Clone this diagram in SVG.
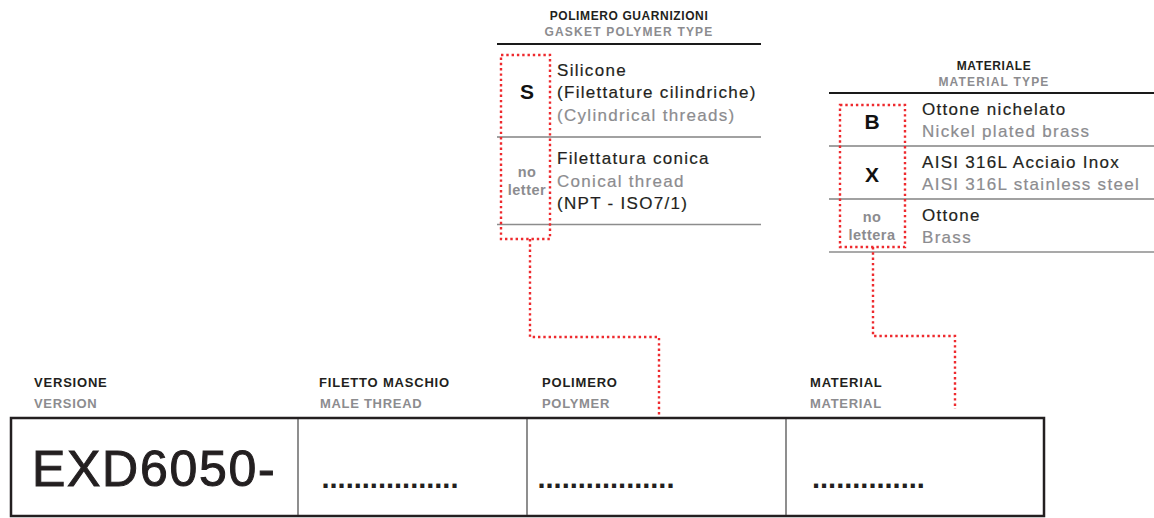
<svg xmlns="http://www.w3.org/2000/svg" width="1154" height="518" viewBox="0 0 1154 518">
<style>
text{font-family:"Liberation Sans",Arial,Helvetica,sans-serif}
.ttl{font-size:12px;font-weight:bold;fill:#231f20;letter-spacing:0.6px;text-anchor:middle}
.ttg{font-size:12px;font-weight:bold;fill:#8c8c8f;letter-spacing:1.2px;text-anchor:middle}
.code{font-size:21px;font-weight:bold;fill:#111;text-anchor:middle}
.nol{font-size:14.5px;font-weight:bold;fill:#8c8c8f;letter-spacing:0.5px;text-anchor:middle}
.d{font-size:17px;fill:#231f20;letter-spacing:1.3px;stroke:#231f20;stroke-width:0.2}
.g{font-size:17px;fill:#8c8c8f;letter-spacing:1.3px;stroke:#8c8c8f;stroke-width:0.2}
.lb{font-size:13px;font-weight:bold;fill:#231f20;letter-spacing:0.8px}
.lg{font-size:13px;font-weight:bold;fill:#8c8c8f;letter-spacing:0.7px}
.dots{font-size:29px;font-weight:bold;fill:#231f20}
.hl{stroke:#1a1a1a;stroke-width:2.2;fill:none}
.dl{stroke:#444;stroke-width:1.2;fill:none}
.bl{stroke:#8c8c8c;stroke-width:1.6;fill:none}
.red{stroke:#ee2a2e;stroke-width:2.4;stroke-dasharray:2.4 2.9;fill:none}
</style>
<g id="polymer-table">
<text class="ttl" x="629" y="20">POLIMERO GUARNIZIONI</text>
<text class="ttg" x="629" y="36">GASKET POLYMER TYPE</text>
<line class="hl" x1="497" y1="44" x2="761" y2="44"/>
<line class="dl" x1="497" y1="137" x2="761" y2="137"/>
<line class="bl" x1="497" y1="224.5" x2="761" y2="224.5"/>
<text class="code" x="527" y="99">S</text>
<text class="d" x="557" y="76">Silicone</text>
<text class="d" x="557" y="98">(Filettature cilindriche)</text>
<text class="g" x="557" y="121">(Cylindrical threads)</text>
<text class="nol" x="527" y="177">no</text>
<text class="nol" x="527" y="195">letter</text>
<text class="d" x="557" y="164">Filettatura conica</text>
<text class="g" x="557" y="187">Conical thread</text>
<text class="d" x="557" y="209">(NPT - ISO7/1)</text>
</g>
<g id="material-table">
<text class="ttl" x="994" y="70">MATERIALE</text>
<text class="ttg" x="994" y="86">MATERIAL TYPE</text>
<line class="hl" x1="829" y1="93" x2="1154" y2="93"/>
<line class="dl" x1="829" y1="146" x2="1154" y2="146"/>
<line class="dl" x1="829" y1="199" x2="1154" y2="199"/>
<line class="bl" x1="829" y1="252" x2="1154" y2="252"/>
<text class="code" x="872" y="129">B</text>
<text class="d" x="922" y="115">Ottone nichelato</text>
<text class="g" x="922" y="137">Nickel plated brass</text>
<text class="code" x="872" y="182">X</text>
<text class="d" x="922" y="168">AISI 316L Acciaio Inox</text>
<text class="g" x="922" y="190">AISI 316L stainless steel</text>
<text class="nol" x="872" y="222">no</text>
<text class="nol" x="872" y="240">lettera</text>
<text class="d" x="922" y="221">Ottone</text>
<text class="g" x="922" y="243">Brass</text>
</g>
<g id="code-box">
<text class="lb" x="34" y="387">VERSIONE</text>
<text class="lg" x="34" y="408">VERSION</text>
<text class="lb" x="319" y="387">FILETTO MASCHIO</text>
<text class="lg" x="320" y="408">MALE THREAD</text>
<text class="lb" x="542" y="387">POLIMERO</text>
<text class="lg" x="542" y="408">POLYMER</text>
<text class="lb" x="810" y="387">MATERIAL</text>
<text class="lg" x="810" y="408">MATERIAL</text>
<rect x="11" y="418" width="1033" height="98" fill="none" stroke="#231f20" stroke-width="2.5"/>
<line class="dl" x1="298" y1="419" x2="298" y2="515"/>
<line class="dl" x1="527" y1="419" x2="527" y2="515"/>
<line class="dl" x1="786" y1="419" x2="786" y2="515"/>
<text x="32" y="486" style="font-size:50px;fill:#231f20;stroke:#231f20;stroke-width:1;letter-spacing:1.7px">EXD6050-</text>
<text class="dots" x="321.5" y="488">.................</text>
<text class="dots" x="537.5" y="488">.................</text>
<text class="dots" x="812" y="488">..............</text>
</g>
<g id="connectors">
<rect class="red" x="501" y="55" width="49" height="184"/>
<polyline class="red" points="530,239 530,337 659,337 659,417"/>
<rect class="red" x="840" y="105" width="65" height="142"/>
<polyline class="red" points="873,247 873,336 955,336 955,409"/>
</g>
</svg>
